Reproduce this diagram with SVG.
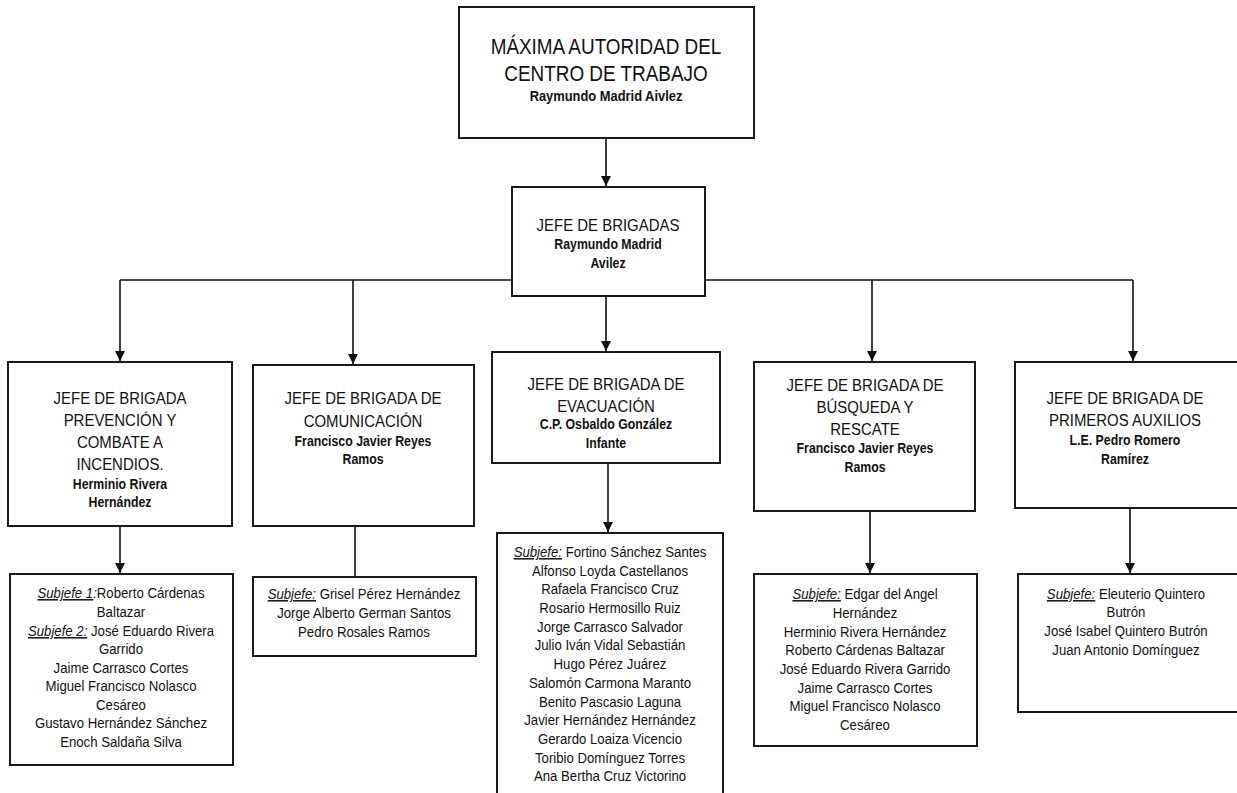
<svg xmlns="http://www.w3.org/2000/svg" width="1237" height="793" viewBox="0 0 1237 793">
<style>
.box{fill:#fff;stroke:#1a1a1a;stroke-width:2}
.ln{fill:none;stroke:#111;stroke-width:1.6}
text{font-family:"Liberation Sans",Arial,sans-serif;fill:#111;text-anchor:middle}
.h1{font-size:22px}
.h2{font-size:17px}
.b1{font-size:15px;font-weight:bold}
.b2{font-size:14px;font-weight:bold}
.li{font-size:15px}
.sj{font-style:italic;text-decoration:underline}
</style>
<defs>
<marker id="arr" markerUnits="userSpaceOnUse" markerWidth="12" markerHeight="12" refX="6" refY="11" orient="auto-start-reverse" viewBox="0 0 12 12">
<path d="M1,1 L11,1 L6,11 Z" fill="#111" transform="rotate(-90 6 6)"/>
</marker>
<marker id="ar" markerUnits="userSpaceOnUse" markerWidth="12" markerHeight="12" refX="10" refY="6" orient="auto" viewBox="0 0 12 12">
<path d="M0,1 L10,6 L0,11 Z" fill="#111"/>
</marker>
</defs>
<rect width="1237" height="793" fill="#fff"/>
<g id="connectors">
<path class="ln" d="M606,138 V186" marker-end="url(#ar)"/>
<path class="ln" d="M120,280 H512 M705,280 H1133"/>
<path class="ln" d="M120,280 V361" marker-end="url(#ar)"/>
<path class="ln" d="M353,280 V364" marker-end="url(#ar)"/>
<path class="ln" d="M606,296 V351" marker-end="url(#ar)"/>
<path class="ln" d="M872,280 V361" marker-end="url(#ar)"/>
<path class="ln" d="M1133,280 V361" marker-end="url(#ar)"/>
<path class="ln" d="M120,526 V573" marker-end="url(#ar)"/>
<path class="ln" d="M355,526 V577"/>
<path class="ln" d="M608,463 V532" marker-end="url(#ar)"/>
<path class="ln" d="M870,511 V573" marker-end="url(#ar)"/>
<path class="ln" d="M1130,508 V573" marker-end="url(#ar)"/>
</g>
<g id="maxima">
<rect class="box" x="459" y="7" width="295" height="131"/>
<g transform="translate(606,0) scale(0.86,1)">
<text class="h1" x="0" y="54">MÁXIMA AUTORIDAD DEL</text>
<text class="h1" x="0" y="81">CENTRO DE TRABAJO</text>
<text class="b1" x="0" y="101">Raymundo Madrid Aivlez</text>
</g>
</g>
<g id="jefe-brigadas">
<rect class="box" x="512" y="187" width="193" height="109"/>
<g transform="translate(608,0) scale(0.88,1)">
<text class="h2" x="0" y="231">JEFE DE BRIGADAS</text>
<text class="b2" x="0" y="249">Raymundo Madrid</text>
<text class="b2" x="0" y="268">Avilez</text>
</g>
</g>
<g id="brigada-incendios">
<rect class="box" x="8" y="362" width="224" height="164"/>
<g transform="translate(120,0) scale(0.88,1)">
<text class="h2" x="0" y="404">JEFE DE BRIGADA</text>
<text class="h2" x="0" y="426">PREVENCIÓN Y</text>
<text class="h2" x="0" y="448">COMBATE A</text>
<text class="h2" x="0" y="470">INCENDIOS.</text>
<text class="b2" x="0" y="489">Herminio Rivera</text>
<text class="b2" x="0" y="507">Hernández</text>
</g>
</g>
<g id="brigada-comunicacion">
<rect class="box" x="253" y="365" width="221" height="161"/>
<g transform="translate(363,0) scale(0.88,1)">
<text class="h2" x="0" y="404">JEFE DE BRIGADA DE</text>
<text class="h2" x="0" y="427">COMUNICACIÓN</text>
<text class="b2" x="0" y="446">Francisco Javier Reyes</text>
<text class="b2" x="0" y="464">Ramos</text>
</g>
</g>
<g id="brigada-evacuacion">
<rect class="box" x="492" y="352" width="228" height="111"/>
<g transform="translate(606,0) scale(0.88,1)">
<text class="h2" x="0" y="390">JEFE DE BRIGADA DE</text>
<text class="h2" x="0" y="412">EVACUACIÓN</text>
<text class="b2" x="0" y="429">C.P. Osbaldo González</text>
<text class="b2" x="0" y="448">Infante</text>
</g>
</g>
<g id="brigada-busqueda">
<rect class="box" x="754" y="362" width="221" height="149"/>
<g transform="translate(865,0) scale(0.88,1)">
<text class="h2" x="0" y="391">JEFE DE BRIGADA DE</text>
<text class="h2" x="0" y="413">BÚSQUEDA Y</text>
<text class="h2" x="0" y="435">RESCATE</text>
<text class="b2" x="0" y="453">Francisco Javier Reyes</text>
<text class="b2" x="0" y="472">Ramos</text>
</g>
</g>
<g id="brigada-auxilios">
<rect class="box" x="1015" y="362" width="230" height="146"/>
<g transform="translate(1125,0) scale(0.88,1)">
<text class="h2" x="0" y="404">JEFE DE BRIGADA DE</text>
<text class="h2" x="0" y="426">PRIMEROS AUXILIOS</text>
<text class="b2" x="0" y="445">L.E. Pedro Romero</text>
<text class="b2" x="0" y="464">Ramírez</text>
</g>
</g>
<g id="sub-incendios">
<rect class="box" x="10" y="574" width="223" height="191"/>
<g transform="translate(121,0) scale(0.88,1)" class="li">
<text class="li" x="0" y="598"><tspan class="sj">Subjefe 1</tspan><tspan font-style="italic">:</tspan>Roberto Cárdenas</text>
<text class="li" x="0" y="617">Baltazar</text>
<text class="li" x="0" y="636"><tspan class="sj">Subjefe 2:</tspan> José Eduardo Rivera</text>
<text class="li" x="0" y="654">Garrido</text>
<text class="li" x="0" y="673">Jaime Carrasco Cortes</text>
<text class="li" x="0" y="691">Miguel Francisco Nolasco</text>
<text class="li" x="0" y="710">Cesáreo</text>
<text class="li" x="0" y="728">Gustavo Hernández Sánchez</text>
<text class="li" x="0" y="747">Enoch Saldaña Silva</text>
</g>
</g>
<g id="sub-comunicacion">
<rect class="box" x="253" y="577" width="223" height="79"/>
<g transform="translate(364,0) scale(0.88,1)">
<text class="li" x="0" y="599"><tspan class="sj">Subjefe:</tspan> Grisel Pérez Hernández</text>
<text class="li" x="0" y="618">Jorge Alberto German Santos</text>
<text class="li" x="0" y="637">Pedro Rosales Ramos</text>
</g>
</g>
<g id="sub-evacuacion">
<rect class="box" x="497" y="533" width="226" height="275"/>
<g transform="translate(610,0) scale(0.88,1)">
<text class="li" x="0" y="557"><tspan class="sj">Subjefe:</tspan> Fortino Sánchez Santes</text>
<text class="li" x="0" y="575.7">Alfonso Loyda Castellanos</text>
<text class="li" x="0" y="594.4">Rafaela Francisco Cruz</text>
<text class="li" x="0" y="613.1">Rosario Hermosillo Ruiz</text>
<text class="li" x="0" y="631.8">Jorge Carrasco Salvador</text>
<text class="li" x="0" y="650.5">Julio Iván Vidal Sebastián</text>
<text class="li" x="0" y="669.2">Hugo Pérez Juárez</text>
<text class="li" x="0" y="687.9">Salomón Carmona Maranto</text>
<text class="li" x="0" y="706.6">Benito Pascasio Laguna</text>
<text class="li" x="0" y="725.3">Javier Hernández Hernández</text>
<text class="li" x="0" y="744">Gerardo Loaiza Vicencio</text>
<text class="li" x="0" y="762.7">Toribio Domínguez Torres</text>
<text class="li" x="0" y="781.4">Ana Bertha Cruz Victorino</text>
</g>
</g>
<g id="sub-busqueda">
<rect class="box" x="754" y="574" width="223" height="172"/>
<g transform="translate(865,0) scale(0.88,1)">
<text class="li" x="0" y="599"><tspan class="sj">Subjefe:</tspan> Edgar del Angel</text>
<text class="li" x="0" y="618">Hernández</text>
<text class="li" x="0" y="637">Herminio Rivera Hernández</text>
<text class="li" x="0" y="655">Roberto Cárdenas Baltazar</text>
<text class="li" x="0" y="674">José Eduardo Rivera Garrido</text>
<text class="li" x="0" y="693">Jaime Carrasco Cortes</text>
<text class="li" x="0" y="711">Miguel Francisco Nolasco</text>
<text class="li" x="0" y="730">Cesáreo</text>
</g>
</g>
<g id="sub-auxilios">
<rect class="box" x="1018" y="574" width="227" height="138"/>
<g transform="translate(1126,0) scale(0.88,1)">
<text class="li" x="0" y="599"><tspan class="sj">Subjefe:</tspan> Eleuterio Quintero</text>
<text class="li" x="0" y="617">Butrón</text>
<text class="li" x="0" y="636">José Isabel Quintero Butrón</text>
<text class="li" x="0" y="655">Juan Antonio Domínguez</text>
</g>
</g>
</svg>
